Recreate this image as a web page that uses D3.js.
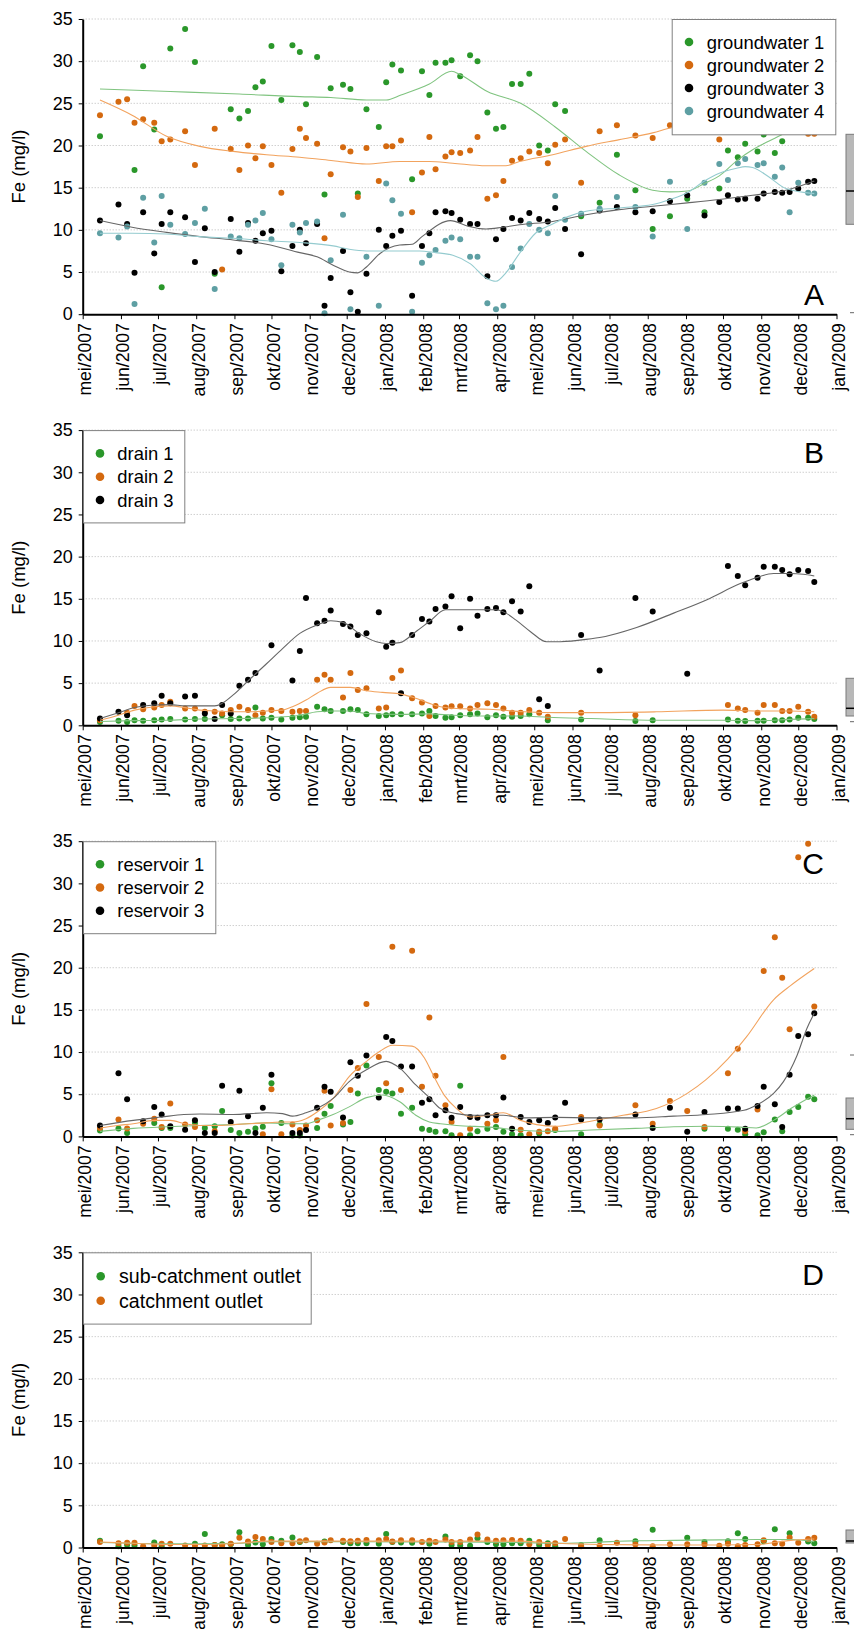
<!DOCTYPE html>
<html>
<head>
<meta charset="utf-8">
<script src="https://cdn.jsdelivr.net/npm/d3@7"></script>
<style>
  body { margin: 0; background: #fff; }
  svg { display: block; font-family: "Liberation Sans", Arial, sans-serif; }
</style>
</head>
<body>
<div id="chart"></div>
<script>
// Sampling dates (shared by all panels)
const sampleDates = [
  "2007-05-15","2007-05-30","2007-06-06","2007-06-12","2007-06-19","2007-06-28","2007-07-04","2007-07-11","2007-07-23","2007-07-31",
  "2007-08-08","2007-08-16","2007-08-22","2007-08-29","2007-09-05","2007-09-12","2007-09-18","2007-09-24","2007-10-01","2007-10-09",
  "2007-10-18","2007-10-24","2007-10-29","2007-11-07","2007-11-13","2007-11-18","2007-11-28","2007-12-04","2007-12-10","2007-12-17",
  "2007-12-27","2008-01-02","2008-01-07","2008-01-14","2008-01-23","2008-01-31","2008-02-06","2008-02-11","2008-02-19","2008-02-24",
  "2008-03-02","2008-03-10","2008-03-16","2008-03-24","2008-03-31","2008-04-06","2008-04-13","2008-04-20","2008-04-27","2008-05-05",
  "2008-05-12","2008-05-18","2008-05-26","2008-06-08","2008-06-23","2008-07-07","2008-07-22","2008-08-05","2008-08-19","2008-09-02",
  "2008-09-16","2008-09-28","2008-10-05","2008-10-13","2008-10-19","2008-10-29","2008-11-03","2008-11-12","2008-11-18","2008-11-24",
  "2008-12-01","2008-12-09","2008-12-14"
];

const monthNames = ["jan","feb","mrt","apr","mei","jun","jul","aug","sep","okt","nov","dec"];
const yTicks = [0, 5, 10, 15, 20, 25, 30, 35];

// A: groundwater
const gw1 = [
  21.1, null, null, 17.1, 29.4, 21.9, 3.2, 31.5, 33.8, 29.9,
  null, 4.8, null, 24.3, 23.2, 24.1, 26.9, 27.6, 31.8, 25.4,
  31.9, 31.1, 24.9, 30.5, 14.2, 26.8, 27.2, 26.7, 14.3, 24.3,
  22.2, 27.5, 29.6, 28.9, 16.0, 28.8, 26.0, 29.8, 29.8, 30.1,
  28.2, 30.7, 30.0, 23.9, 22.0, 22.2, 27.3, 27.3, 28.5, 20.0,
  19.4, 24.9, 24.1, 11.6, 13.2, 18.9, 14.7, 10.1, 11.6, 13.7,
  12.1, 14.9, 19.4, 18.6, 20.2, 19.3, 21.3, 19.1, 20.5, null,
  null, null, null
];
const gw2 = [
  23.6, 25.2, 25.5, 22.7, 23.1, 22.7, 20.5, 20.7, 21.7, 17.7,
  null, 22.0, 5.3, 19.6, 17.1, 20.0, 18.5, 19.9, 17.7, 14.4,
  19.6, 22.0, 20.9, 20.2, 9.0, 16.6, 19.8, 19.3, 13.9, 19.7,
  15.8, 19.9, 19.9, 20.6, 12.1, 16.8, 21.0, 17.2, 18.7, 19.2,
  19.1, 19.4, 21.0, 13.7, 14.1, 15.8, 18.2, 18.5, 19.3, 19.1,
  17.9, 20.1, 20.7, 15.6, 21.7, 22.4, 21.2, 20.9, 22.4, 23.0,
  23.5, 20.7, 24.0, 23.2, 22.6, 23.8, 22.5, 24.5, 22.1, null,
  null, 21.4, 21.4
];
const gw3 = [
  11.1, 13.0, 10.7, 4.9, 12.1, 7.2, 10.7, 12.1, 11.5, 6.2,
  10.2, 5.0, null, 11.3, 7.4, 10.8, 8.7, 9.6, 9.9, 5.1,
  8.1, 10.0, 8.4, 10.7, 1.0, 4.3, 7.5, 2.6, 0.3, 4.8,
  10.0, 8.1, 9.3, 9.9, 2.2, 8.1, 9.6, 12.1, 12.2, 12.0,
  11.2, 10.7, 10.7, 4.5, 8.9, 10.1, 11.4, 11.1, 12.0, 11.3,
  11.0, 12.6, 10.1, 7.1, 12.3, 12.7, 12.1, 12.2, 13.4, 14.1,
  11.7, 13.3, 14.1, 13.6, 13.7, 13.7, 14.3, 14.5, 14.4, 14.5,
  14.9, 15.7, 15.8
];
const gw4 = [
  9.6, 9.1, 10.4, 1.2, 13.8, 8.5, 14.0, 10.6, 9.5, 10.8,
  12.5, 3.0, null, 9.2, 9.0, 10.6, 11.1, 12.0, 8.9, 5.8,
  10.6, 9.7, 10.8, 11.0, 0.1, 6.4, 11.8, 0.6, null, 6.8,
  1.0, 15.5, 13.5, 11.9, 0.3, 6.1, 7.0, 7.6, 8.7, 9.1,
  8.9, 6.8, 6.8, 1.3, 0.6, 1.0, 5.6, 7.8, 10.7, 10.0,
  9.6, 14.0, 11.2, 11.9, 12.5, 13.9, 12.7, 9.2, 15.7, 10.1,
  15.6, 17.8, 15.9, 17.9, 18.4, 17.7, 17.9, 16.3, 17.4, 12.1,
  15.6, 14.4, 14.3
];
const gw1Trend = [
  ["2007-05-15",26.7],["2007-07-11",26.4],["2007-09-05",26.1],["2007-10-24",25.8],["2007-11-18",25.7],
  ["2007-12-17",25.4],["2008-01-02",25.4],["2008-01-14",26.0],["2008-02-06",27.3],["2008-02-24",28.8],
  ["2008-03-02",28.4],["2008-03-24",26.4],["2008-04-20",25.0],["2008-05-18",22.2],["2008-06-12",19.3],
  ["2008-07-09",16.5],["2008-08-05",14.7],["2008-08-19",14.5],["2008-09-02",14.6],["2008-09-16",15.5],
  ["2008-09-28",16.4],["2008-10-13",18.3],["2008-10-25",19.5],["2008-11-07",20.5],["2008-11-18",21.3]
];
const gw2Trend = [
  ["2007-05-15",25.4],["2007-06-10",23.6],["2007-07-08",21.1],["2007-08-04",19.9],["2007-08-31",19.3],
  ["2007-09-27",18.9],["2007-10-24",18.6],["2007-11-20",18.2],["2007-12-17",17.8],["2008-01-13",18.1],
  ["2008-02-06",18.1],["2008-02-25",17.9],["2008-03-23",17.6],["2008-04-08",17.6],["2008-04-19",18.1],
  ["2008-05-16",18.9],["2008-06-12",19.9],["2008-07-09",20.7],["2008-08-05",21.5],["2008-08-20",22.1],
  ["2008-09-28",22.8],["2008-11-03",22.6],["2008-12-14",22.0]
];
const gw3Trend = [
  ["2007-05-15",11.1],["2007-06-10",10.3],["2007-07-08",9.7],["2007-08-04",9.2],["2007-08-31",8.8],
  ["2007-09-27",8.3],["2007-10-24",7.3],["2007-11-07",6.8],["2007-11-20",5.8],["2007-12-03",5.0],
  ["2007-12-10",4.9],["2007-12-17",5.6],["2007-12-28",7.2],["2008-01-13",8.2],["2008-01-23",8.3],
  ["2008-01-31",9.2],["2008-02-23",11.1],["2008-03-09",10.4],["2008-03-23",10.1],["2008-04-05",10.3],
  ["2008-04-19",10.6],["2008-05-16",11.0],["2008-06-12",11.8],["2008-07-09",12.4],["2008-08-05",12.8],
  ["2008-09-02",13.2],["2008-09-28",13.6],["2008-10-25",14.1],["2008-11-21",14.7],["2008-12-14",15.8]
];
const gw4Trend = [
  ["2007-05-15",9.6],["2007-06-10",9.6],["2007-07-08",9.5],["2007-08-04",9.2],["2007-08-31",9.0],
  ["2007-09-27",8.7],["2007-10-24",8.5],["2007-11-20",8.1],["2007-12-03",7.7],["2007-12-17",7.5],
  ["2008-01-13",7.5],["2008-01-29",7.5],["2008-02-11",7.3],["2008-02-25",7.0],["2008-03-10",6.0],
  ["2008-03-23",4.3],["2008-03-31",3.9],["2008-04-08",4.9],["2008-04-19",7.2],["2008-05-02",9.6],
  ["2008-05-16",10.7],["2008-05-29",11.6],["2008-06-12",12.2],["2008-07-09",12.6],["2008-08-05",13.0],
  ["2008-08-19",13.6],["2008-09-02",14.4],["2008-09-15",15.7],["2008-09-28",16.7],["2008-10-12",17.3],
  ["2008-10-19",17.5],["2008-10-25",17.4],["2008-11-07",16.3],["2008-11-21",14.9],["2008-12-14",14.3]
];

// B: drains
const drain1 = [
  0.4, 0.55, 0.4, 0.6, 0.55, 0.6, 0.7, 0.75, 0.7, 0.75,
  0.75, null, 1.2, 0.75, 0.8, 0.8, 2.1, 0.8, 0.9, 0.7,
  0.9, 0.95, 1.0, 2.2, 1.9, 1.7, 1.7, 1.9, 1.8, 1.3,
  1.1, 1.2, 1.3, 1.3, 1.3, 1.4, 1.7, 1.1, 0.9, 0.95,
  1.2, 1.3, 1.4, 0.95, 1.2, 1.0, 1.0, 1.1, 1.3, null,
  0.6, null, null, 0.7, null, null, 0.5, 0.6, null, null,
  null, null, 0.7, 0.55, 0.5, 0.55, 0.55, 0.6, 0.6, 0.7,
  0.9, 0.9, 0.75
];
const drain2 = [
  0.6, null, 1.5, 2.3, 1.9, 2.1, 2.4, 2.8, 2.0, 2.0,
  1.6, 1.6, 1.4, 1.8, 2.2, 1.8, 1.2, 1.5, 1.8, 1.7,
  1.6, 1.7, 1.7, 5.4, 6.0, 5.4, 3.3, 6.2, 4.2, 4.4,
  2.0, 2.1, 5.6, 6.5, 3.2, 2.7, 1.1, 2.3, 2.1, 2.25,
  2.25, 2.0, 2.4, 2.6, 2.4, 2.0, 1.5, 1.5, 1.8, 1.5,
  1.0, null, null, 1.5, null, null, 1.2, null, null, null,
  null, null, 2.4, 2.0, 1.8, 1.5, 2.4, 2.4, 1.7, 1.7,
  2.2, 1.6, 1.0
];
const drain3 = [
  0.8, 1.6, 1.2, null, 2.4, 2.6, 3.5, 2.6, 3.4, 3.5,
  1.4, 0.75, 2.4, 1.4, 4.7, 5.4, 6.2, null, 9.5, null,
  5.3, 8.8, 15.1, 12.1, 12.4, 13.6, 12.0, 11.7, 10.7, 10.9,
  13.4, 9.3, 9.8, 3.8, 10.7, 12.6, 12.3, 13.8, 14.1, 15.3,
  11.5, 15.0, 13.0, 13.8, 13.9, 13.4, 14.7, 13.5, 16.5, 3.1,
  2.3, null, null, 10.7, 6.5, null, 15.1, 13.5, null, 6.1,
  null, null, 18.9, 17.7, 16.6, 17.5, 18.8, 18.8, 18.4, 17.9,
  18.4, 18.3, 17.0
];
const drain1Trend = [
  ["2007-05-15",0.45],["2007-06-10",0.55],["2007-07-08",0.6],["2007-08-04",0.75],["2007-08-31",0.8],
  ["2007-09-27",0.9],["2007-10-24",1.2],["2007-11-07",1.6],["2007-11-20",1.7],["2007-12-03",1.7],
  ["2007-12-17",1.4],["2008-01-13",1.3],["2008-02-06",1.35],["2008-02-25",1.2],["2008-03-26",1.1],
  ["2008-04-20",1.1],["2008-05-12",0.95],["2008-06-16",0.8],["2008-08-08",0.6],["2008-10-01",0.6],
  ["2008-10-29",0.55],["2008-11-24",0.7],["2008-12-14",0.8]
];
const drain2Trend = [
  ["2007-05-15",0.6],["2007-05-30",1.2],["2007-06-12",1.8],["2007-06-28",2.2],["2007-07-11",2.3],
  ["2007-07-23",2.1],["2007-08-04",1.8],["2007-08-16",1.7],["2007-08-31",1.6],["2007-09-13",1.6],
  ["2007-09-27",1.7],["2007-10-10",1.8],["2007-10-18",2.2],["2007-10-29",3.0],["2007-11-07",3.8],
  ["2007-11-18",4.5],["2007-12-04",4.5],["2007-12-17",4.1],["2007-12-30",3.9],["2008-01-14",3.7],
  ["2008-01-26",3.2],["2008-02-06",2.6],["2008-02-15",2.2],["2008-02-28",2.0],["2008-03-26",1.9],
  ["2008-04-23",1.6],["2008-05-19",1.5],["2008-06-16",1.5],["2008-08-08",1.6],["2008-10-01",1.8],
  ["2008-10-29",1.7],["2008-11-24",1.7],["2008-12-14",1.6]
];
const drain3Trend = [
  ["2007-05-15",0.8],["2007-05-30",1.5],["2007-06-12",2.1],["2007-06-28",2.4],["2007-07-11",2.45],
  ["2007-07-23",2.3],["2007-08-04",2.3],["2007-08-16",2.3],["2007-08-22",2.6],["2007-08-31",3.6],
  ["2007-09-13",5.4],["2007-09-27",7.3],["2007-10-10",9.1],["2007-10-24",10.9],["2007-11-07",11.9],
  ["2007-11-18",12.4],["2007-11-28",12.2],["2007-12-11",10.9],["2007-12-25",9.9],["2008-01-02",9.7],
  ["2008-01-13",9.8],["2008-01-26",11.1],["2008-02-06",12.3],["2008-02-19",13.7],["2008-02-28",13.7],
  ["2008-03-13",13.7],["2008-03-31",13.7],["2008-04-08",13.3],["2008-04-16",12.5],["2008-04-28",11.1],
  ["2008-05-11",9.9],["2008-05-19",9.9],["2008-06-07",10.1],["2008-06-23",10.4],["2008-07-23",11.6],
  ["2008-08-22",13.3],["2008-09-18",14.9],["2008-10-15",16.8],["2008-10-28",17.5],["2008-11-11",18.0],
  ["2008-11-25",18.0],["2008-12-05",17.9],["2008-12-14",17.7]
];

// C: reservoirs
const res1 = [
  0.7, 0.95, 0.4, null, null, 1.6, 1.0, 1.0, null, 1.6,
  1.0, 1.2, 3.0, 0.75, 0.4, 0.55, 0.95, 1.15, 6.3, 1.6,
  0.1, 0.1, null, 1.0, 2.7, 3.6, 1.4, 1.7, 5.1, 8.4,
  5.5, 5.3, 5.1, 2.7, 3.4, 0.9, 0.75, 0.55, 0.6, 0.15,
  6.0, 0.15, 0.6, 0.9, 1.1, 0.55, 0.25, 0.15, null, 0.35,
  null, 0.75, null, 0.25, 1.4, null, null, null, null, null,
  0.9, null, 0.9, 0.8, 0.25, 0.15, 0.5, 2.0, 0.6, 2.9,
  3.5, 4.7, 4.4
];
const res2 = [
  1.0, 2.0, 0.95, null, 1.5, 2.1, 1.1, 3.9, 1.4, 1.1,
  null, 0.6, null, null, null, null, null, 0.25, 5.6, 0.25,
  1.4, 0.75, 1.3, 1.9, 5.4, 1.3, 1.6, 5.5, 8.1, 15.7,
  9.4, 6.3, 22.5, 5.5, 22.0, 5.9, 14.1, 7.2, 3.7, 1.7,
  0.15, 0.9, null, 1.5, 1.9, 9.4, null, 0.8, 0.25, 0.55,
  0.6, 0.9, null, 2.3, 1.3, null, 3.7, 1.5, 4.2, 3.0,
  1.1, null, 7.5, 10.4, 0.6, 3.2, 19.6, 23.6, 18.8, 12.7,
  33.1, 34.7, 15.4
];
const res3 = [
  1.3, 7.5, 4.4, null, 1.8, 3.5, 2.6, 1.2, 0.8, 1.9,
  0.4, 0.4, 6.0, 1.7, 5.4, 2.4, 0.4, 3.4, 7.3, null,
  0.4, 0.4, 0.75, 3.4, 5.9, 5.3, 2.25, 8.8, 7.2, 9.6,
  4.6, 11.8, 11.3, 8.3, 8.3, 4.0, 4.4, 2.5, 3.1, 2.2,
  3.5, 2.3, 2.2, 2.5, 2.5, 4.6, 0.9, 2.3, 1.7, 1.9,
  1.6, 2.25, 4.0, 2.0, 2.0, null, 2.6, 1.0, 3.4, 0.55,
  2.9, null, 3.3, 3.3, 0.9, 3.6, 5.9, 3.8, 1.1, 7.3,
  11.9, 12.1, 14.6
];
const res1Trend = [
  ["2007-05-15",0.6],["2007-06-11",0.95],["2007-07-08",1.15],["2007-08-04",1.3],["2007-08-31",1.4],
  ["2007-09-27",1.6],["2007-10-18",1.5],["2007-10-29",1.5],["2007-11-07",1.9],["2007-11-20",2.6],
  ["2007-12-03",3.5],["2007-12-17",4.6],["2007-12-30",4.9],["2008-01-13",4.1],["2008-01-26",2.5],
  ["2008-02-06",1.7],["2008-02-15",1.5],["2008-02-28",1.3],["2008-03-26",1.1],["2008-04-23",0.7],
  ["2008-05-19",0.6],["2008-06-16",0.75],["2008-07-22",0.95],["2008-08-22",1.15],["2008-09-18",1.2],
  ["2008-10-15",1.1],["2008-10-28",1.0],["2008-11-11",1.9],["2008-11-25",3.3],["2008-12-14",4.9]
];
const res2Trend = [
  ["2007-05-15",1.0],["2007-05-29",1.3],["2007-06-11",1.5],["2007-06-28",1.9],["2007-07-11",1.9],
  ["2007-07-23",1.5],["2007-08-04",1.3],["2007-08-18",1.3],["2007-08-31",1.4],["2007-09-13",1.5],
  ["2007-09-27",1.6],["2007-10-10",1.7],["2007-10-18",1.7],["2007-10-29",2.1],["2007-11-07",2.9],
  ["2007-11-20",4.5],["2007-12-03",7.1],["2007-12-17",8.9],["2007-12-27",10.0],["2008-01-07",10.8],
  ["2008-01-23",10.7],["2008-02-02",9.3],["2008-02-09",7.3],["2008-02-18",4.9],["2008-02-28",3.3],
  ["2008-03-10",2.3],["2008-03-24",2.5],["2008-04-06",2.8],["2008-04-20",1.9],["2008-05-03",1.4],
  ["2008-05-18",1.2],["2008-06-08",1.6],["2008-06-23",2.0],["2008-07-12",2.5],["2008-08-08",3.3],
  ["2008-09-02",5.1],["2008-09-17",6.7],["2008-10-05",9.2],["2008-10-20",11.8],["2008-11-11",16.2],
  ["2008-11-25",17.9],["2008-12-14",19.9]
];
const res3Trend = [
  ["2007-05-15",1.3],["2007-06-11",1.9],["2007-07-04",2.3],["2007-07-22",2.6],["2007-08-04",2.65],
  ["2007-08-31",2.6],["2007-09-27",2.8],["2007-10-10",2.7],["2007-10-18",2.4],["2007-10-29",2.8],
  ["2007-11-07",3.3],["2007-11-20",4.5],["2007-12-03",6.5],["2007-12-17",7.9],["2008-01-02",8.9],
  ["2008-01-13",8.1],["2008-01-26",6.1],["2008-02-06",4.6],["2008-02-15",3.3],["2008-02-28",2.7],
  ["2008-03-13",2.5],["2008-04-06",2.5],["2008-04-23",2.2],["2008-05-19",2.25],["2008-06-16",2.2],
  ["2008-07-22",2.2],["2008-08-22",2.4],["2008-09-18",2.6],["2008-10-18",3.1],["2008-10-28",3.7],
  ["2008-11-11",5.1],["2008-11-19",6.5],["2008-11-30",9.6],["2008-12-08",12.8],["2008-12-14",14.6]
];

// D: outlets
const subOutlet = [
  0.8, 0.15, 0.3, 0.25, null, 0.6, 0.15, null, null, 0.45,
  1.6, 0.3, 0.4, 0.4, 1.8, 0.3, 0.6, 0.4, 1.0, 0.8,
  1.2, 0.65, null, null, 0.7, null, 0.65, 0.5, 0.5, 0.5,
  0.45, 1.6, 0.65, 0.6, 0.55, null, 0.45, null, 1.3, 0.3,
  0.25, 0.2, 1.1, 0.65, 0.4, 0.4, 0.5, 0.5, 0.8, 0.3,
  0.5, 0.15, null, 0.3, 0.85, null, 0.75, 2.1, null, 1.15,
  0.65, null, 0.75, 1.7, 1.0, null, 0.75, 2.15, null, 1.7,
  null, 0.7, 0.5
];
const outlet = [
  0.65, 0.5, 0.55, 0.55, 0.15, 0.25, 0.45, 0.45, 0.25, 0.2,
  0.25, 0.3, 0.25, 0.45, 1.15, 0.7, 1.25, 1.0, 0.65, 0.5,
  0.5, 0.75, 0.85, 0.45, 0.6, 0.85, 0.8, 0.75, 0.8, 0.9,
  0.85, 1.0, 0.7, 0.85, 0.85, 0.65, 0.8, 0.65, 0.95, 0.65,
  0.65, 0.95, 1.55, 0.95, 0.8, 0.85, 0.9, 0.8, 0.4, 0.65,
  0.3, 0.5, 1.0, 0.15, 0.2, 0.55, 0.35, 0.15, 0.4, 0.4,
  0.35, 0.2, 0.45, 0.15, 0.3, 0.4, 0.85, 0.5, 0.45, 1.2,
  0.55, 1.0, 1.15
];
const subOutletTrend = [
  ["2007-05-15",0.6],["2007-07-08",0.45],["2007-08-04",0.45],["2007-09-05",0.5],["2007-10-01",0.7],
  ["2007-11-20",0.7],["2008-01-13",0.65],["2008-02-28",0.65],["2008-04-19",0.6],["2008-05-19",0.5],
  ["2008-06-16",0.6],["2008-07-22",0.8],["2008-08-22",0.85],["2008-09-28",0.9],["2008-10-28",0.95],
  ["2008-11-25",0.95],["2008-12-14",0.7]
];
const outletTrend = [
  ["2007-05-15",0.65],["2007-06-11",0.5],["2007-07-08",0.35],["2007-08-04",0.35],["2007-08-29",0.45],
  ["2007-09-27",0.75],["2007-10-24",0.75],["2007-12-03",0.75],["2008-01-13",0.75],["2008-02-28",0.75],
  ["2008-04-19",0.75],["2008-05-19",0.5],["2008-06-23",0.35],["2008-08-22",0.3],["2008-09-28",0.3],
  ["2008-10-28",0.35],["2008-11-25",0.85],["2008-12-14",1.0]
];

// Colours
const green = "#2a972a", orange = "#d4690f", black = "#000000", teal = "#5e9fa3";
const greenLine = "#80c480", orangeLine = "#f2a35e", blackLine = "#666666", tealLine = "#94cbcf";

const panels = [
  { letter: "A", letterDy: 286,
    legend: { x: 671.7, w: 163.6, h: 115.3, row0: 23, step: 23, font: 18.4, mx: 17.3, tx: 35 },
    series: [
      { name: "groundwater 1", values: gw1, trend: gw1Trend, color: green, line: greenLine },
      { name: "groundwater 2", values: gw2, trend: gw2Trend, color: orange, line: orangeLine },
      { name: "groundwater 3", values: gw3, trend: gw3Trend, color: black, line: blackLine },
      { name: "groundwater 4", values: gw4, trend: gw4Trend, color: teal, line: tealLine }
    ] },
  { letter: "B", letterDy: 33,
    legend: { x: 83, w: 101.3, h: 92.3, row0: 23.3, step: 23.3, font: 18.4, mx: 17, tx: 34.3 },
    series: [
      { name: "drain 1", values: drain1, trend: drain1Trend, color: green, line: greenLine },
      { name: "drain 2", values: drain2, trend: drain2Trend, color: orange, line: orangeLine },
      { name: "drain 3", values: drain3, trend: drain3Trend, color: black, line: blackLine }
    ] },
  { letter: "C", letterDy: 33,
    legend: { x: 83, w: 132.3, h: 92, row0: 23, step: 23.3, font: 18.4, mx: 17, tx: 34.3 },
    series: [
      { name: "reservoir 1", values: res1, trend: res1Trend, color: green, line: greenLine },
      { name: "reservoir 2", values: res2, trend: res2Trend, color: orange, line: orangeLine },
      { name: "reservoir 3", values: res3, trend: res3Trend, color: black, line: blackLine }
    ] },
  { letter: "D", letterDy: 33,
    legend: { x: 83, w: 227.7, h: 71.3, row0: 24, step: 24.4, font: 19.6, mx: 17.7, tx: 36 },
    series: [
      { name: "sub-catchment outlet", values: subOutlet, trend: subOutletTrend, color: green, line: greenLine },
      { name: "catchment outlet", values: outlet, trend: outletTrend, color: orange, line: orangeLine }
    ] }
];

const W = 854, H = 1629;
const plotLeft = 82.7, plotRight = 836.5, panelTop0 = 19, panelStep = 411.1, plotH = 295.2;

const parse = d3.timeParse("%Y-%m-%d");
const dates = sampleDates.map(parse);

const svg = d3.select("#chart").append("svg")
  .attr("width", W).attr("height", H);

const x = d3.scaleTime()
  .domain([new Date(2007, 4, 1), new Date(2009, 0, 1)])
  .range([plotLeft, plotRight]);

panels.forEach((p, i) => {
  const top = panelTop0 + i * panelStep;
  const y = d3.scaleLinear().domain([0, 35]).range([top + plotH, top]);
  const g = svg.append("g");

  // dotted gridlines
  g.append("g").selectAll("line")
    .data(yTicks.filter(v => v > 0))
    .enter().append("line")
    .attr("x1", plotLeft).attr("x2", plotRight)
    .attr("y1", d => y(d)).attr("y2", d => y(d))
    .attr("stroke", "#a8a8a8").attr("stroke-width", 0.8)
    .attr("stroke-dasharray", "1,2");

  // points
  p.series.forEach(s => {
    g.append("g").selectAll("circle")
      .data(s.values.map((v, k) => ({ date: dates[k], v })).filter(d => d.v !== null))
      .enter().append("circle")
      .attr("cx", d => x(d.date))
      .attr("cy", d => y(d.v))
      .attr("r", 3)
      .attr("fill", s.color);
  });

  // smoothed trend lines
  const line = d3.line()
    .x(d => x(parse(d[0])))
    .y(d => y(d[1]))
    .curve(d3.curveMonotoneX);
  p.series.forEach(s => {
    g.append("path")
      .attr("d", line(s.trend))
      .attr("fill", "none")
      .attr("stroke", s.line)
      .attr("stroke-width", 1.1);
  });

  // x axis
  const xAxis = g.append("g")
    .attr("transform", `translate(0,${y(0)})`)
    .call(d3.axisBottom(x)
      .ticks(d3.timeMonth.every(1))
      .tickSize(5)
      .tickSizeOuter(0)
      .tickFormat(d => `${monthNames[d.getMonth()]}/${d.getFullYear()}`));
  xAxis.select(".domain").attr("stroke", "#000").attr("stroke-width", 2);
  xAxis.selectAll(".tick line").attr("stroke", "#000").attr("stroke-width", 1);
  xAxis.selectAll(".tick text")
    .attr("font-size", 17.6)
    .attr("font-family", "'Liberation Sans', Arial, sans-serif")
    .attr("fill", "#000")
    .attr("text-anchor", "end")
    .attr("transform", "translate(0,9) rotate(-90)")
    .attr("x", 0).attr("y", 0).attr("dy", "0.45em");

  // y axis
  const yAxis = g.append("g")
    .attr("transform", `translate(${plotLeft},0)`)
    .call(d3.axisLeft(y).tickValues(yTicks).tickSize(4).tickSizeOuter(0).tickPadding(6));
  yAxis.select(".domain").attr("stroke", "#000").attr("stroke-width", 2);
  yAxis.selectAll(".tick line").attr("stroke", "#000");
  yAxis.selectAll(".tick text")
    .attr("font-size", 18)
    .attr("font-family", "'Liberation Sans', Arial, sans-serif")
    .attr("fill", "#000");

  // axis title
  g.append("text")
    .attr("transform", `translate(25,${top + plotH / 2}) rotate(-90)`)
    .attr("text-anchor", "middle")
    .attr("font-size", 18.5)
    .text("Fe (mg/l)");

  // legend
  const L = p.legend;
  const lg = g.append("g").attr("transform", `translate(${L.x},${top})`);
  lg.append("rect")
    .attr("x", 0.5).attr("y", 0.5)
    .attr("width", L.w).attr("height", L.h)
    .attr("fill", "#fff").attr("stroke", "#808080").attr("stroke-width", 1);
  p.series.forEach((s, k) => {
    const ry = L.row0 + k * L.step;
    lg.append("circle").attr("cx", L.mx).attr("cy", ry).attr("r", 4.3).attr("fill", s.color);
    lg.append("text").attr("x", L.tx).attr("y", ry).attr("dy", "0.36em")
      .attr("font-size", L.font).text(s.name);
  });

  // panel letter
  g.append("text")
    .attr("x", 824).attr("y", top + p.letterDy)
    .attr("text-anchor", "end")
    .attr("font-size", 30)
    .text(p.letter);
});

// clipped pieces of the neighbouring chart at the right edge
const edgeBoxes = [[134.3, 90, 191], [678.3, 37.7, 708.3], [1098, 31.3, 1118.7], [1530, 13, 1541]];
edgeBoxes.forEach(b => {
  svg.append("rect").attr("x", 846).attr("y", b[0]).attr("width", 12).attr("height", b[1])
    .attr("fill", "#b8b8b8").attr("stroke", "#7a7a7a");
  svg.append("line").attr("x1", 846).attr("x2", 854).attr("y1", b[2]).attr("y2", b[2])
    .attr("stroke", "#000").attr("stroke-width", 1.5);
});
[312.7, 721.7, 1055, 1134.7].forEach(v => {
  svg.append("line").attr("x1", 850).attr("x2", 854).attr("y1", v).attr("y2", v)
    .attr("stroke", "#666");
});
</script>
</body>
</html>
